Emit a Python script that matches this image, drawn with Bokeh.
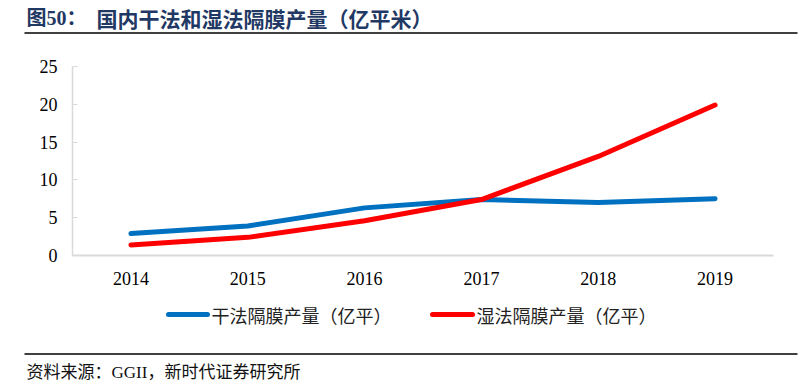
from bokeh.plotting import figure
from bokeh.layouts import column
from bokeh.models import Range1d, FactorRange, Label
from bokeh.embed import file_html
from bokeh.resources import INLINE

# ---- data -------------------------------------------------------------
years = ["2014", "2015", "2016", "2017", "2018", "2019"]
dry_output = [2.9, 3.9, 6.3, 7.4, 7.0, 7.5]      # 干法隔膜产量（亿平）
wet_output = [1.4, 2.4, 4.6, 7.4, 13.1, 19.9]    # 湿法隔膜产量（亿平）
y_ticks = [0, 5, 10, 15, 20, 25]

series_names = ["干法隔膜产量（亿平）", "湿法隔膜产量（亿平）"]
series_colors = ["#0070C0", "#FF0000"]

title_prefix = "图50："
title_text = "国内干法和湿法隔膜产量（亿平米）"
source_text = "资料来源：GGII，新时代证券研究所"

W = 806
SERIF_CJK = "'Liberation Serif', 'Noto Sans CJK SC'"
CJK = "'Noto Sans CJK SC'"
TITLE_COLOR = "#1F3864"


def strip(height):
    """A blank band whose data units are canvas pixels (y grows downward)."""
    s = figure(width=W, height=height, output_backend="svg", toolbar_location=None,
               x_range=Range1d(0, W), y_range=Range1d(height, 0),
               x_axis_location=None, y_axis_location=None,
               min_border=0, min_border_left=0, min_border_right=0,
               min_border_top=0, min_border_bottom=0, frame_align=False)
    s.grid.visible = False
    s.outline_line_color = None
    s.background_fill_color = "white"
    s.border_fill_color = "white"
    return s


# ---- title band -------------------------------------------------------
top = strip(40)
top.add_layout(Label(x=26, y=17, text=title_prefix, text_font=SERIF_CJK,
                     text_font_style="bold", text_font_size="20px",
                     text_color=TITLE_COLOR, text_baseline="middle"))
top.add_layout(Label(x=96, y=17, text=title_text, text_font=CJK,
                     text_font_style="bold", text_font_size="21px",
                     text_color=TITLE_COLOR, text_baseline="middle"))
top.segment(x0=[24], y0=[32.5], x1=[797], y1=[32.5], line_color="black", line_width=1.5)

# ---- main chart -------------------------------------------------------
p = figure(width=W, height=260, output_backend="svg", toolbar_location=None,
           x_range=FactorRange(*years), y_range=Range1d(0, 25),
           min_border_left=72, min_border_right=33,
           min_border_top=26, min_border_bottom=45, frame_align=False)
p.grid.visible = False
p.outline_line_color = None
p.border_fill_color = "white"

p.line(years, dry_output, line_color=series_colors[0], line_width=5,
       line_cap="round", line_join="round")
p.line(years, wet_output, line_color=series_colors[1], line_width=5,
       line_cap="round", line_join="round")

p.yaxis.ticker = y_ticks
p.yaxis.axis_line_color = "#D9D9D9"
p.yaxis.axis_line_width = 1.5
p.yaxis.major_tick_line_color = "#D9D9D9"
p.yaxis.major_tick_in = 5
p.yaxis.major_tick_out = 0
p.yaxis.minor_tick_line_color = None
p.yaxis.major_label_standoff = 15
p.yaxis.major_label_text_font = "Liberation Serif"
p.yaxis.major_label_text_font_size = "18px"
p.yaxis.major_label_text_color = "black"

p.xaxis.axis_line_color = "#D9D9D9"
p.xaxis.axis_line_width = 2
p.xaxis.major_tick_line_color = None
p.xaxis.minor_tick_line_color = None
p.xaxis.major_label_standoff = 10
p.xaxis.major_label_text_font = "Liberation Serif"
p.xaxis.major_label_text_font_size = "18px"
p.xaxis.major_label_text_color = "black"

# ---- legend band ------------------------------------------------------
leg = strip(40)
legend_pos = [(168, 207, 211), (432, 472, 476)]
for (x0, x1, tx), name, color in zip(legend_pos, series_names, series_colors):
    leg.line([x0, x1], [14, 14], line_color=color, line_width=5, line_cap="round")
    leg.add_layout(Label(x=tx, y=14, text=name, text_font=CJK, text_font_size="18px",
                         text_color="#222222", text_baseline="middle"))

# ---- source band ------------------------------------------------------
foot = strip(50)
foot.segment(x0=[24], y0=[13.5], x1=[797], y1=[13.5], line_color="black", line_width=1.5)
foot.add_layout(Label(x=26, y=32, text=source_text, text_font=SERIF_CJK,
                      text_font_size="17px", text_color="#111111",
                      text_baseline="middle"))

layout = column(top, p, leg, foot, spacing=0)
open("out.html", "w").write(file_html(layout, INLINE))
